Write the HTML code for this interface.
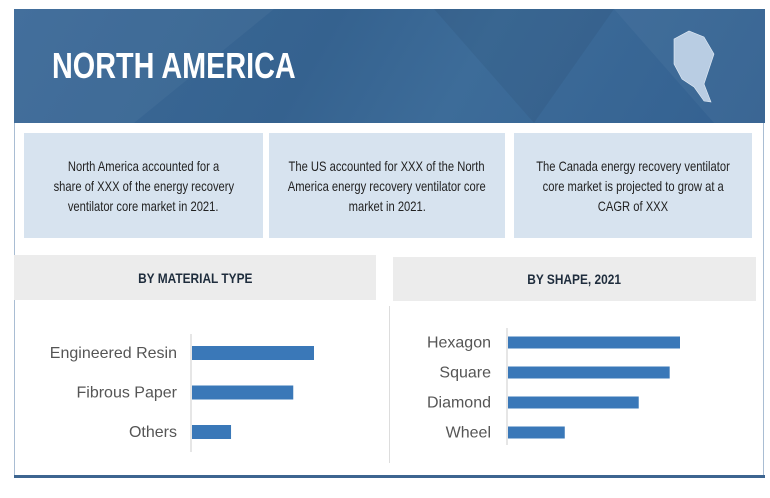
<!DOCTYPE html>
<html><head><meta charset="utf-8">
<style>
body{margin:0;width:770px;height:498px;background:#fff;position:relative;overflow:hidden;font-family:"Liberation Sans",sans-serif}
.abs{position:absolute}
.box{position:absolute;top:133px;height:105px;background:#d7e3ef;display:flex;flex-direction:column;align-items:center;justify-content:center;text-align:center;font-size:14px;line-height:20px;color:#222}
.box span{display:block;white-space:nowrap;transform:scaleX(0.8)}
.sec{position:absolute;background:#ececec;display:flex;align-items:center;justify-content:center;font-weight:bold;font-size:14px;color:#1f2d3d}
.sec span{display:inline-block;transform:scaleX(0.85);white-space:nowrap}
</style></head><body>
<div class="abs" style="left:14px;top:9px;width:750px;height:468px;border:1px solid #a9bdd3;border-top:none;box-sizing:border-box"></div>
<div class="abs" style="left:14px;top:9px;width:751px;height:114px;background:linear-gradient(120deg,#3c6a98 0%,#35628f 40%,#3d6c99 60%,#336090 100%)">
<svg width="751" height="114" style="position:absolute;left:0;top:0">
<polygon points="0,0 260,0 120,114 0,114" fill="#ffffff" opacity="0.04"/>
<polygon points="420,0 600,0 520,114" fill="#000" opacity="0.05"/>
<polygon points="600,0 751,0 751,114 700,114" fill="#fff" opacity="0.04"/>
<path d="M660,30 L675,22 L690,28 L700,45 L695,60 L690,75 L697,93 L690,92 L680,78 L668,70 L660,55 Z" fill="#b9cde3" stroke="#e6eef7" stroke-width="0.6"/>
</svg>
<div class="abs" style="left:38px;top:36px;font-size:36px;font-weight:bold;color:#fff;white-space:nowrap;transform:scaleX(0.8);transform-origin:left center">NORTH AMERICA</div>
</div>
<div class="box" style="left:24px;width:239px"><span>North America accounted for a</span><span>share of XXX of the energy recovery</span><span>ventilator core market in 2021.</span></div>
<div class="box" style="left:269px;width:236px"><span>The US accounted for XXX of the North</span><span>America energy recovery ventilator core</span><span>market in 2021.</span></div>
<div class="box" style="left:514px;width:238px"><span>The Canada energy recovery ventilator</span><span>core market is projected to grow at a</span><span>CAGR of XXX</span></div>
<div class="sec" style="left:14px;top:255px;width:362px;height:45px"><span>BY MATERIAL TYPE</span></div>
<div class="sec" style="left:393px;top:257px;width:363px;height:44px"><span>BY SHAPE, 2021</span></div>
<div class="abs" style="left:389px;top:306px;width:1px;height:157px;background:#ddd"></div>
<div class="abs" style="left:14px;top:475px;width:751px;height:3px;background:#3d6590"></div>
<svg id="c" width="770" height="498" class="abs" style="left:0;top:0"></svg>
<script>
const matCats=["Engineered Resin","Fibrous Paper","Others"];
const matVals=[100,83,32];
const shapeCats=["Hexagon","Square","Diamond","Wheel"];
const shapeVals=[100,94,76,33];
const svg=document.getElementById('c');
const NS="http://www.w3.org/2000/svg";
function draw(cats,vals,x0,yTop,yBot,scale,firstY,step,bh,labelX,prefix){
  const ax=document.createElementNS(NS,'line');
  ax.setAttribute('x1',x0);ax.setAttribute('x2',x0);ax.setAttribute('y1',yTop);ax.setAttribute('y2',yBot);
  ax.setAttribute('stroke','#ccc');
  
  
  svg.appendChild(ax);
  cats.forEach((c,i)=>{
    const yc=firstY+i*step;
    const r=document.createElementNS(NS,'rect');
    r.setAttribute('x',x0+1);r.setAttribute('y',yc-bh/2);r.setAttribute('width',vals[i]*scale);r.setAttribute('height',bh);
    r.setAttribute('fill','#3a78b8');
    
    
    svg.appendChild(r);
    const t=document.createElementNS(NS,'text');
    t.setAttribute('x',labelX);t.setAttribute('y',yc+5);t.setAttribute('text-anchor','end');
    t.setAttribute('font-size','16');t.setAttribute('fill','#555');
    t.setAttribute('font-family','"Liberation Sans",sans-serif');
    t.textContent=c;
    
    
    svg.appendChild(t);
  });
}
draw(matCats,matVals,191,334,452,1.22,353,39.5,14,177,'material');
draw(shapeCats,shapeVals,507,328,445,1.72,342.5,30,12,491,'shape');
</script>
</body></html>
